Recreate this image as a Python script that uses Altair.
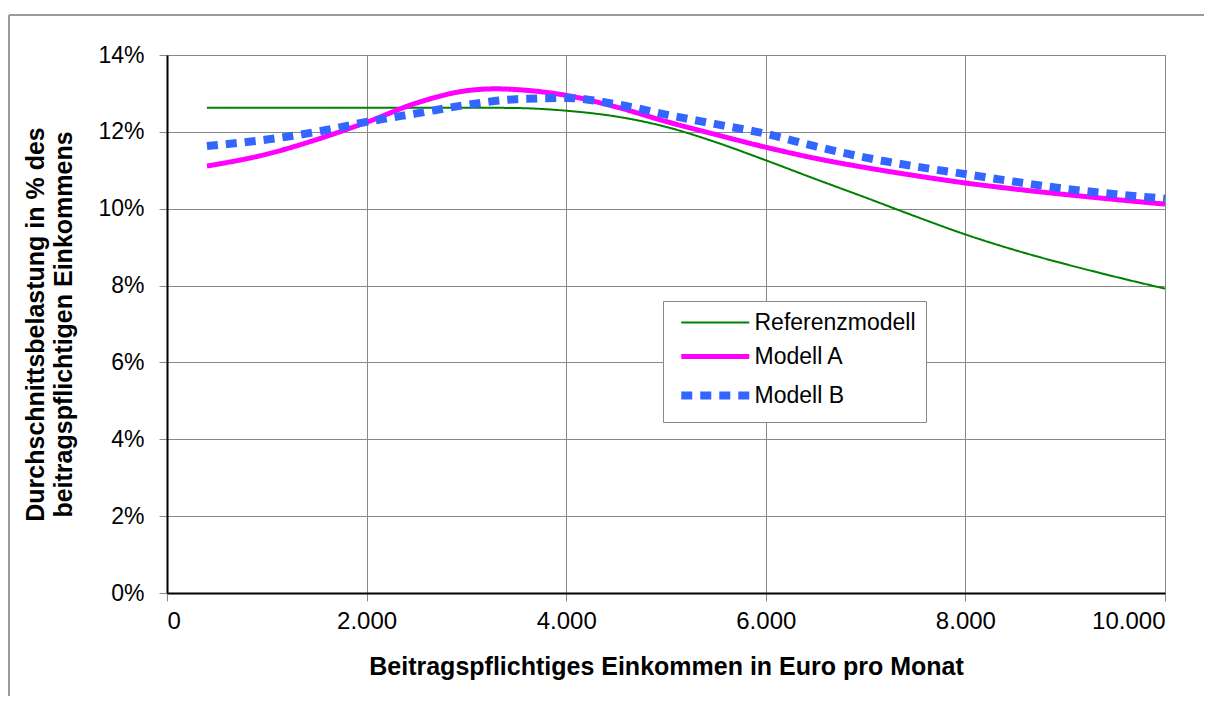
import altair as alt
import pandas as pd

FONT = "Liberation Sans"

series_names = ["Referenzmodell", "Modell A", "Modell B"]

x_ref = [400, 1000, 1500, 2000, 2500, 3000, 3500, 4000, 4500, 5000, 5500, 6000,
         6500, 7000, 7500, 8000, 8500, 9000, 9500, 10000]
y_ref = [12.63, 12.63, 12.63, 12.63, 12.63, 12.63, 12.62, 12.55, 12.4, 12.13,
         11.73, 11.26, 10.77, 10.29, 9.8, 9.33, 8.92, 8.56, 8.23, 7.92]

x_a = [400, 1000, 1500, 2000, 2500, 3000, 3300, 3500, 4000, 4500, 5000, 5500,
       6000, 6500, 7000, 7500, 8000, 8500, 9000, 9500, 10000]
y_a = [11.11, 11.42, 11.8, 12.25, 12.75, 13.07, 13.12, 13.1, 12.95, 12.65, 12.27,
       11.93, 11.6, 11.31, 11.07, 10.86, 10.67, 10.51, 10.37, 10.24, 10.12]

x_b = [400, 1000, 1500, 2000, 2500, 3000, 3500, 4000, 4500, 5000, 5500, 6000,
       6500, 7000, 7500, 8000, 8500, 9000, 9500, 10000]
y_b = [11.63, 11.8, 12.0, 12.26, 12.48, 12.7, 12.85, 12.88, 12.72, 12.45, 12.2,
       11.95, 11.62, 11.33, 11.1, 10.9, 10.7, 10.52, 10.38, 10.26]

x_ticks = [0, 2000, 4000, 6000, 8000, 10000]
y_ticks = [0, 2, 4, 6, 8, 10, 12, 14]

rows = []
for name, xs, ys in [(series_names[0], x_ref, y_ref),
                     (series_names[1], x_a, y_a),
                     (series_names[2], x_b, y_b)]:
    for xv, yv in zip(xs, ys):
        rows.append({"Modell": name, "Einkommen": xv, "Belastung": yv})
df = pd.DataFrame(rows)

lines = alt.Chart(df).mark_line(interpolate="monotone", strokeCap="butt").encode(
    x=alt.X("Einkommen:Q",
            scale=alt.Scale(domain=[0, 10000], nice=False, zero=False),
            axis=alt.Axis(values=x_ticks,
                          labelExpr="replace(format(datum.value, ','), ',', '.')",
                          labelFontSize=24,
                          title="Beitragspflichtiges Einkommen in Euro pro Monat",
                          titlePadding=21, labelPadding=8)),
    y=alt.Y("Belastung:Q",
            scale=alt.Scale(domain=[0, 14], nice=False),
            axis=alt.Axis(values=y_ticks, labelExpr="datum.value + '%'",
                          title=["Durchschnittsbelastung in % des",
                                 "beitragspflichtigen Einkommens"],
                          titlePadding=21, labelPadding=15)),
    color=alt.Color("Modell:N",
                    scale=alt.Scale(domain=series_names,
                                    range=["#008000", "#FF00FF", "#3366FF"]),
                    sort=series_names, title=None),
    strokeWidth=alt.StrokeWidth("Modell:N",
                                scale=alt.Scale(domain=series_names, range=[2, 8, 4.5]),
                                sort=series_names, title=None),
    strokeDash=alt.StrokeDash("Modell:N",
                              scale=alt.Scale(domain=series_names,
                                              range=[[1, 0], [1, 0], [11, 8]]),
                              sort=series_names, title=None),
    order=alt.Order("Einkommen:Q"),
)

frame_top = alt.Chart(df).mark_rule(color="#9a9a9a", strokeWidth=1).encode(
    x=alt.value(-158), x2=alt.value(1100), y=alt.value(-40))
frame_left = alt.Chart(df).mark_rule(color="#9a9a9a", strokeWidth=1).encode(
    x=alt.value(-158), y=alt.value(-40), y2=alt.value(700))

chart = alt.layer(frame_top, frame_left, lines).properties(
    width=998, height=538,
    autosize=alt.AutoSizeParams(type="none"),
    padding={"left": 159, "top": 47, "right": 39, "bottom": 103},
).configure(
    font=FONT,
).configure_view(
    stroke="#888888", strokeWidth=1,
).configure_axis(
    grid=True, gridColor="#888888", gridWidth=1, gridOpacity=1,
    domainColor="#000000", domainWidth=2,
    tickColor="#888888", tickSize=8, tickWidth=1,
    labelFont=FONT, labelFontSize=23, labelColor="#000000",
    titleFont=FONT, titleFontSize=25, titleFontWeight="bold", titleColor="#000000",
).configure_axisY(
    titleFontSize=25, titleLineHeight=28,
).configure_legend(
    orient="none", legendX=496, legendY=246,
    padding=10, strokeColor="#888888", fillColor="#ffffff",
    labelFont=FONT, labelFontSize=23, labelColor="#000000", labelLimit=400,
    symbolType="M-0.76,0H15.24", symbolSize=72.25, rowPadding=10, labelOffset=58.5,
)

chart.save("out.html", embed_options={"renderer": "svg", "actions": False})
